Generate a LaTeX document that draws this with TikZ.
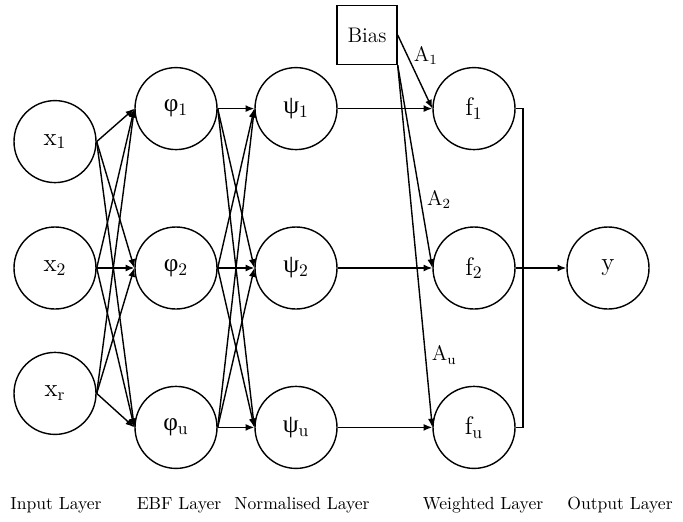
\documentclass[tikz,border=0pt]{standalone}
\usepackage{amsmath,amssymb}
\usepackage{fontspec}
\newfontfamily\greekfont{Liberation Serif}
\usepackage{tikz}
\usetikzlibrary{positioning}
\usetikzlibrary{arrows.meta}
\newcommand{\ph}[1]{{\greekfont φ}$_{\mathrm{#1}}$}
\newcommand{\ps}[1]{{\greekfont ψ}$_{\mathrm{#1}}$}
\newcommand{\xin}[1]{$\mathrm{x}_{\mathrm{#1}}$}
\begin{document}
\begin{tikzpicture}[main node/.style={circle,draw,thick,minimum size=1.64cm,inner sep=0pt,font=\Large},
    bias node/.style={rectangle,draw,thick,minimum width=1.2cm,minimum height=1.18cm,font=\large},
    layer label/.style={font=\normalsize},
    >={Latex[length=5pt,width=4pt]}]
    \useasboundingbox (0,0) rectangle (13.66,-10.42);

    \node[main node] (x2) at (1.10,-5.36) {\xin{2}};
    \node[main node] (x1) [above=0.86cm of x2] {\xin{1}};
    \node[main node] (xr) [below=0.84cm of x2] {\xin{r}};

    \node[main node] (phi2) at (3.52,-5.36) {\ph{2}};
    \node[main node] (phi1) [above=1.52cm of phi2] {\ph{1}};
    \node[main node] (phiu) [below=1.52cm of phi2] {\ph{u}};

    \node[main node] (psi2) at (5.92,-5.36) {\ps{2}};
    \node[main node] (psi1) [above=1.52cm of psi2] {\ps{1}};
    \node[main node] (psiu) [below=1.52cm of psi2] {\ps{u}};

    \node[main node] (f2) at (9.48,-5.36) {$\mathrm{f}_2$};
    \node[main node] (f1) [above=1.52cm of f2] {$\mathrm{f}_1$};
    \node[main node] (fu) [below=1.52cm of f2] {$\mathrm{f}_\mathrm{u}$};

    \node[main node] (y) at (12.16,-5.36) {y};
    \node[bias node] (bias) at (7.34,-0.70) {Bias};

    \path[->,thick]
    (x1.east) edge (phi1.west)
    (x1.east) edge (phi2.west)
    (x1.east) edge (phiu.west)
    (x2.east) edge (phi1.west)
    (x2.east) edge (phi2.west)
    (x2.east) edge (phiu.west)
    (xr.east) edge (phi1.west)
    (xr.east) edge (phi2.west)
    (xr.east) edge (phiu.west);

    \path[->,thick]
    (phi1.east) edge (psi1.west)
    (phi1.east) edge (psi2.west)
    (phi1.east) edge (psiu.west)
    (phi2.east) edge (psi1.west)
    (phi2.east) edge (psi2.west)
    (phi2.east) edge (psiu.west)
    (phiu.east) edge (psi1.west)
    (phiu.east) edge (psi2.west)
    (phiu.east) edge (psiu.west);

    \path[->,thick]
    (psi1) edge (f1)
    (psi2) edge (f2)
    (psiu) edge (fu);

    \path[->,thick,every node/.style={font=\large}]
    (bias.east) edge node[right,pos=0.28] {$\mathrm{A}_1$} (f1.west)
    (bias.south east) edge node[right,pos=0.66] {$\mathrm{A}_2$} (f2.west)
    (bias.south east) edge node[right,pos=0.80] {$\mathrm{A}_\mathrm{u}$} (fu.west);

    \coordinate (join) at (10.46,-5.36);
    \draw[thick] (f1.east) -| (join) |- (fu.east);
    \draw[->,thick] (f2) -- (y);

    \node[layer label] (l1) at (1.12,-10.10) {Input Layer};
    \node[layer label] (l2) at (3.58,-10.10) {EBF Layer};
    \node[layer label] (l3) at (6.04,-10.10) {Normalised Layer};
    \node[layer label] (l4) at (9.66,-10.10) {Weighted Layer};
    \node[layer label] (l5) at (12.40,-10.10) {Output Layer};
  \end{tikzpicture}
\end{document}
